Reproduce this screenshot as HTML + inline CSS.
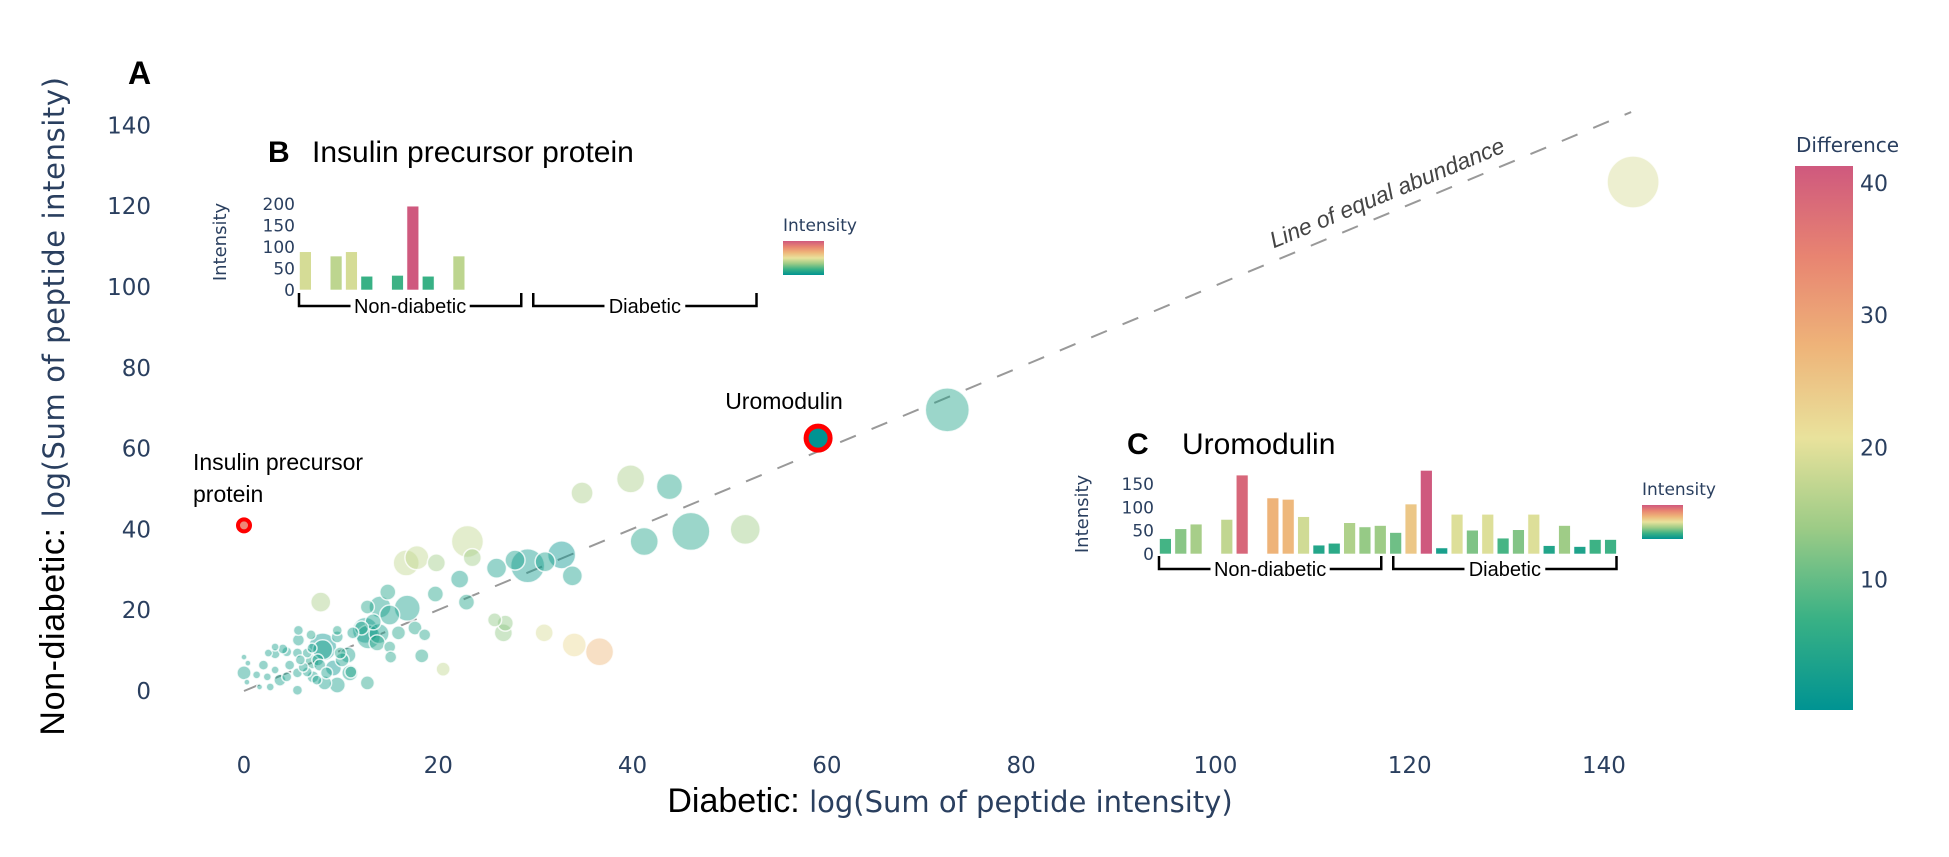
<!DOCTYPE html>
<html><head><meta charset="utf-8"><style>
html,body{margin:0;padding:0;background:#fff;}
svg{display:block;}
.tick{font-family:"DejaVu Sans",sans-serif;fill:#2a3f5f;}
.ann{font-family:"Liberation Sans",sans-serif;fill:#000;}
</style></head><body>
<svg id="chart" width="1949" height="857" viewBox="0 0 1949 857" xmlns="http://www.w3.org/2000/svg">
<defs>
<linearGradient id="temps" x1="0" y1="1" x2="0" y2="0">
<stop offset="0" stop-color="#009392"/><stop offset="0.1667" stop-color="#39b185"/><stop offset="0.3333" stop-color="#9ccb86"/><stop offset="0.5" stop-color="#e9e29c"/><stop offset="0.6667" stop-color="#eeb479"/><stop offset="0.8333" stop-color="#e88471"/><stop offset="1" stop-color="#cf597e"/>
</linearGradient>
</defs>
<g id="main"></g>
<g id="insetB"></g>
<g id="insetC"></g>
</svg>
<script>
// ---- main scatter data ----
const xTicks=[0,20,40,60,80,100,120,140];
const yTicks=[0,20,40,60,80,100,120,140];
const cbTicks=[10,20,30,40];
const ptX=[39.8,43.8,34.8,46,51.6,41.2,23,16.7,17.8,19.8,23.5,26,29.2,27.9,32.7,33.8,31,22.2,22.9,19.7,16.8,14.8,15,14,12.7,7.9,17.6,18.6,15.9,12.8,12.1,13.7,15,15.1,18.3,20.5,25.8,26.9,26.7,30.9,34,36.6,11,12.7,9.9,8.1,9.6,9.6,6.9,5.6,5.6,10.7,10.1,7.6,6.5,5.5,4.4,3.2,2.5,5.5,5.5,3.7,2,0,0,0.4,1.3,0.3,1.6,2.7,4.4,6.5,7.1,7.8,8.5,9.2,8.3,9.6,7.5,6.1,4.7,3.2,2.4,8.1,10.9,12.5,13.3,13.9,11.2,7,5.8,7,3.2,4,72.4,143];
const ptY=[52.5,50.6,49,39.5,40,37,37,31.7,33,31.7,33,30.4,31,32.4,33.7,28.5,32,27.7,22,24,20.5,24.5,18.8,20.8,20.8,22,15.6,13.9,14.4,13.4,15.6,11.9,10.9,8.4,8.7,5.4,17.6,16.8,14.4,14.4,11.4,9.7,4.7,2,9.4,10.2,13.4,15,13.9,15,12.6,8.9,7.7,7.7,9.4,9.4,9.7,10.9,9.4,4.5,0.2,2.7,6.4,4.5,8.4,6.9,4,2.2,1,1,3.5,4.7,3.5,6.4,4.5,5.7,2,1.5,2.7,5.9,6.4,5.2,3.5,10.9,4.5,15,17.1,14.2,14.4,7.2,7.7,10.6,9.2,10.4,69.6,126];
const ptR=[14,13,11,19,15,14,16,13,12,9,9,10,17,10,14,10,10,9,8,8,13,8,10,11,7,10,7,6,7,12,7,8,6,6,7,7,7,8,9,9,12,14,6,7,6,10,6,5,5,5,6,8,7,6,5,5,5,4,4,5,5,6,5,7,3,3,4,3,3,4,5,5,6,6,6,8,7,8,5,5,5,4,4,14,8,13,8,10,6,7,5,5,5,5,22,26];
const ptDiff=[15,4,15,4,14,4,17,17,17,14,14,3,2,3,1,3,3,3,4,4,3,4,3,3,4,15,4,4,4,3,4,4,4,4,4,17,13,13,13,19,22,27,4,4,4,3,3,4,4,3,3,3,3,3,3,3,3,3,3,3,3,3,3,3,3,3,3,3,3,3,3,3,3,3,3,1,3,3,3,3,3,3,3,1,3,2,3,3,3,4,3,3,3,3,4,19];
// highlighted proteins
const hiNames=["Insulin precursor protein","Uromodulin"];
const hiX=[0,59.1];
const hiY=[41,62.6];
// ---- inset B (insulin precursor) ----
const bTicks=[0,50,100,150,200];
const bVals=[89,0,79,89,32,0,34,195,32,0,79,0,0,0,0,0,0,0,0,0,0,0,0,0,0,0,0,0,0,0];
// ---- inset C (uromodulin) ----
const cTicks=[0,50,100,150];
const cVals=[33,54,64,0,74,169,0,120,117,80,19,23,67,58,61,46,107,179,13,85,51,85,34,52,85,18,61,16,31,31];

const NS="http://www.w3.org/2000/svg";
function mk(tag,attrs,parent){const e=document.createElementNS(NS,tag);for(const k in attrs)e.setAttribute(k,attrs[k]);parent.appendChild(e);return e;}
const temps=["#009392","#39b185","#9ccb86","#e9e29c","#eeb479","#e88471","#cf597e"];
function hex(c){return [parseInt(c.slice(1,3),16),parseInt(c.slice(3,5),16),parseInt(c.slice(5,7),16)];}
function cscale(t){t=Math.max(0,Math.min(1,t));const p=t*6,i=Math.min(5,Math.floor(p)),f=p-i;const a=hex(temps[i]),b=hex(temps[i+1]);return "rgb("+a.map((v,k)=>Math.round(v+(b[k]-v)*f)).join(",")+")";}

const sx=v=>244+v*9.714, sy=v=>691-v*4.04;
const main=document.getElementById('main');
let t=mk('text',{x:128,y:84,'font-family':'Liberation Sans,sans-serif','font-weight':'bold','font-size':32,fill:'#000'},main);t.textContent='A';

xTicks.forEach(v=>{const e=mk('text',{x:sx(v),y:773,'text-anchor':'middle','font-size':23,class:'tick'},main);e.textContent=v;

});
yTicks.forEach(v=>{const e=mk('text',{x:151,y:sy(v)+8,'text-anchor':'end','font-size':23,class:'tick'},main);e.textContent=v;

});
let xt=mk('text',{x:950,y:812,'text-anchor':'middle'},main);

xt.innerHTML='<tspan font-family="Liberation Sans,sans-serif" font-size="34" fill="#000">Diabetic: </tspan><tspan font-family="DejaVu Sans,sans-serif" font-size="29" fill="#2a3f5f">log(Sum of peptide intensity)</tspan>';
let yt=mk('text',{x:0,y:0,'text-anchor':'middle',transform:'translate(64,406) rotate(-90)','letter-spacing':'0.6'},main);

yt.innerHTML='<tspan font-family="Liberation Sans,sans-serif" font-size="34" fill="#000">Non-diabetic: </tspan><tspan font-family="DejaVu Sans,sans-serif" font-size="29" fill="#2a3f5f">log(Sum of peptide intensity)</tspan>';
let ln=mk('line',{x1:sx(0),y1:sy(0),x2:sx(142.8),y2:sy(143.3),stroke:'#999','stroke-width':2,'stroke-dasharray':'17,17'},main);

let lt=mk('text',{x:0,y:0,'text-anchor':'middle','font-family':'Liberation Sans,sans-serif','font-style':'italic','font-size':23,fill:'#444',transform:'translate(1390,200) rotate(-22.6)'},main);
lt.textContent='Line of equal abundance';

const order=ptR.map((r,i)=>i).sort((a,b)=>ptR[b]-ptR[a]);
order.forEach(i=>{const c=mk('circle',{cx:sx(ptX[i]),cy:sy(ptY[i]),r:ptR[i],fill:cscale(ptDiff[i]/41.3),'fill-opacity':0.45,stroke:'#fff','stroke-opacity':0.8,'stroke-width':1.5},main);

});
let h1=mk('circle',{cx:sx(hiX[0]),cy:sy(hiY[0]),r:6,fill:'#ee8877',stroke:'#ff0000','stroke-width':4},main);

let h2=mk('circle',{cx:sx(hiX[1]),cy:sy(hiY[1]),r:12,fill:'#009392',stroke:'#ff0000','stroke-width':5},main);

let a1=mk('text',{x:193,y:470,'font-size':23,class:'ann'},main);a1.textContent='Insulin precursor';

let a1b=mk('text',{x:193,y:502,'font-size':23,class:'ann'},main);a1b.textContent='protein';

let a2=mk('text',{x:784,y:409,'text-anchor':'middle','font-size':23,class:'ann'},main);a2.textContent='Uromodulin';

let cb=mk('rect',{x:1795,y:166,width:58,height:544,fill:'url(#temps)'},main);

const cby=v=>712-v*13.23;
cbTicks.forEach(v=>{const e=mk('text',{x:1860,y:cby(v)+8,'font-size':22,class:'tick'},main);e.textContent=v;

});
let cbt=mk('text',{x:1796,y:152,'font-size':20,class:'tick'},main);cbt.textContent='Difference';


function inset(g,opt){
  const {letter,title,lx,tx,ty,x0,base,ppu,ticks,vals,tickX,titleX,brY,lgX,lgY}=opt;
  const bw=15.35, max=Math.max(...vals);
  let L=mk('text',{x:lx,y:ty,'font-family':'Liberation Sans,sans-serif','font-weight':'bold','font-size':30,fill:'#000'},g);L.textContent=letter;
  
  let T=mk('text',{x:tx,y:ty,'font-family':'Liberation Sans,sans-serif','font-size':30,fill:'#000'},g);T.textContent=title;
  
  ticks.forEach(v=>{const e=mk('text',{x:tickX,y:base-v*ppu+6,'text-anchor':'end','font-size':17,class:'tick'},g);e.textContent=v;
  
  });
  const yc=base-ticks[ticks.length-1]*ppu/2-5;
  let A=mk('text',{x:0,y:0,'text-anchor':'middle','font-size':18,class:'tick',fill:'#506784',transform:`translate(${titleX},${yc}) rotate(-90)`},g);A.textContent='Intensity';
  
  vals.forEach((v,i)=>{if(v<=0)return;const r=mk('rect',{x:x0+i*bw+0.5,y:base-v*ppu,width:11.8,height:v*ppu,fill:cscale(v/max),stroke:'#fff','stroke-width':0.6},g);
  
  });
  const groups=['Non-diabetic','Diabetic'];
  groups.forEach((nm,k)=>{const a=x0+k*15*bw+(k?4:0),b=x0+(k+1)*15*bw-(k?3:8);
    const p=mk('path',{d:`M${a},${brY} V${brY+13} H${b} V${brY}`,fill:'none',stroke:'#000','stroke-width':2.5},g);
    
    const tw=nm.length*9.6;
    mk('rect',{x:(a+b)/2-tw/2-2,y:brY+2,width:tw+4,height:22,fill:'#fff'},g);
    const e=mk('text',{x:(a+b)/2,y:brY+20,'text-anchor':'middle','font-family':'Liberation Sans,sans-serif','font-size':20,fill:'#000'},g);e.textContent=nm;
    });
  let lg=mk('rect',{x:lgX,y:lgY,width:41,height:34,fill:'url(#temps)'},g);
  
  let lgt=mk('text',{x:lgX,y:lgY-10,'font-size':17,class:'tick',fill:'#506784'},g);lgt.textContent='Intensity';
  
}
inset(document.getElementById('insetB'),{letter:'B',title:'Insulin precursor protein',lx:268,tx:312,ty:162,x0:299,base:290,ppu:0.43,ticks:bTicks,vals:bVals,tickX:295,titleX:226,brY:293,lgX:783,lgY:241});
inset(document.getElementById('insetC'),{letter:'C',title:'Uromodulin',lx:1127,tx:1182,ty:454,x0:1159,base:554,ppu:0.467,ticks:cTicks,vals:cVals,tickX:1154,titleX:1088,brY:556,lgX:1642,lgY:505});
</script>
</body></html>
